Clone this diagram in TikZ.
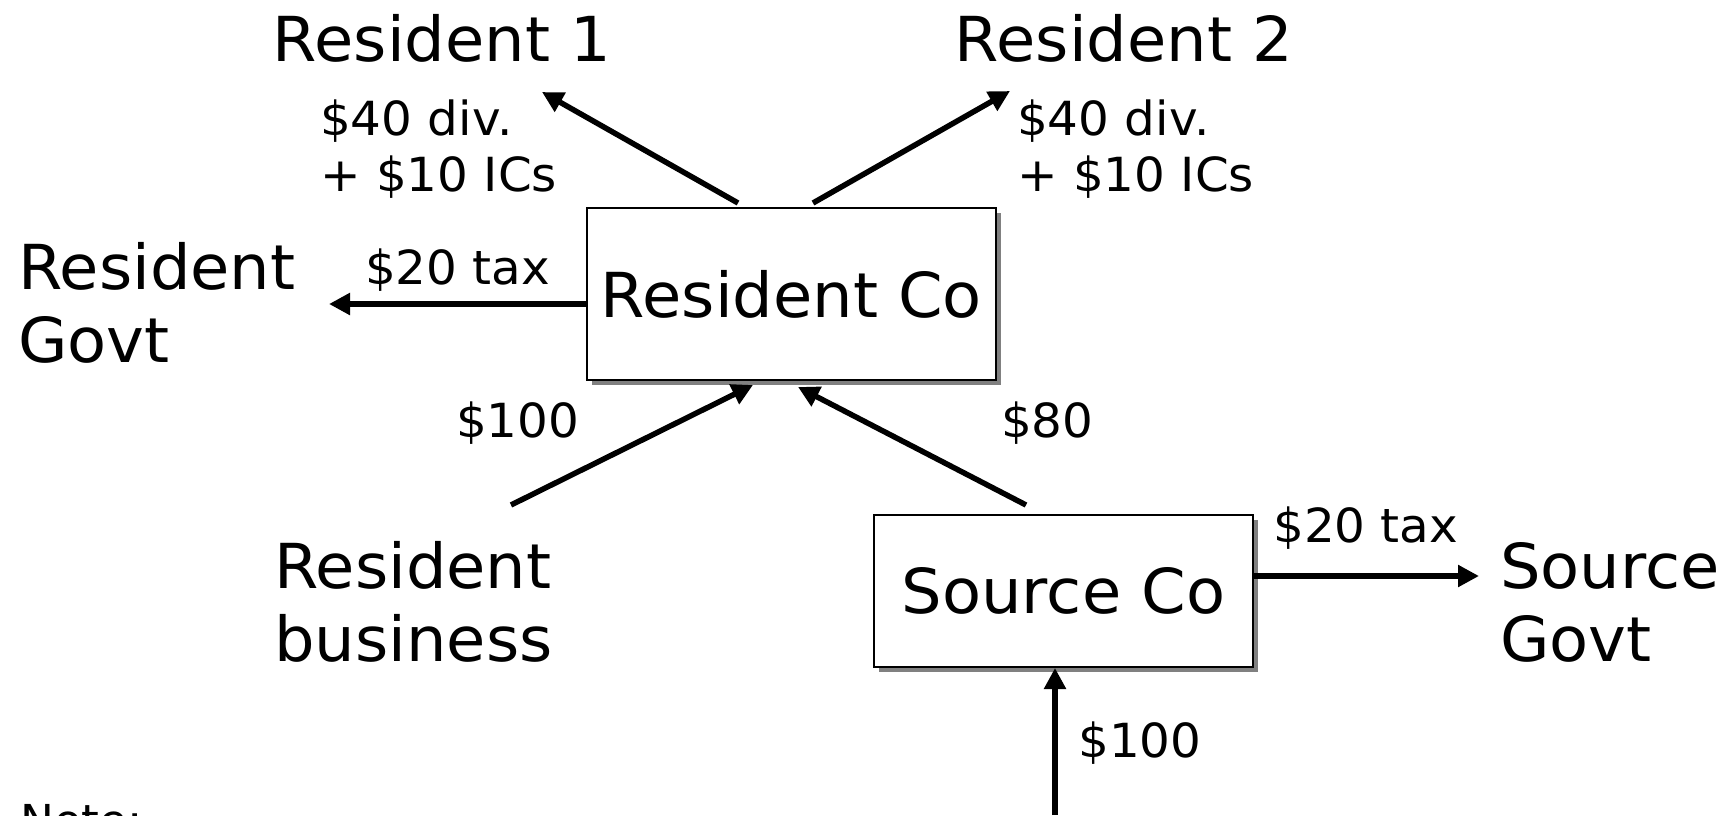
\documentclass[tikz,border=0pt]{standalone}
\usepackage{fontspec}
\setmainfont[FakeStretch=1.03]{DejaVu Sans}
\usetikzlibrary{arrows.meta,shadows}

\tikzset{
  big/.style={font=\fontsize{62}{73}\selectfont, inner sep=0pt, align=left},
  lbl/.style={font=\fontsize{47}{56}\selectfont, inner sep=0pt, align=left},
  company/.style={draw=black, line width=1.6pt, fill=white, inner sep=0pt,
    font=\fontsize{62}{73}\selectfont,
    drop shadow={shadow xshift=5pt, shadow yshift=-5pt, fill=black!50, opacity=1}},
  flow/.style={line width=5.5pt, -{Triangle[length=21pt,width=21pt]}}
}

\begin{document}
\begin{tikzpicture}[x=1pt,y=-1pt]
\useasboundingbox (0,0) rectangle (1733,815);

% companies
\node[company, minimum width=409pt, minimum height=172pt] (rc) at (791.5,294) {Resident Co};
\node[company, minimum width=379pt, minimum height=152pt] (sc) at (1063.5,591) {Source Co};

% parties (multi-line nodes sit on the baseline of their last line)
\node[big, anchor=base] (r1) at (442,61) {Resident 1};
\node[big, anchor=base] (r2) at (1124,61) {Resident 2};
\node[big, anchor=base west] (rg) at (18,362) {Resident\\Govt};
\node[big, anchor=base west] (rb) at (274,661) {Resident\\business};
\node[big, anchor=base west] (sg) at (1500,661) {Source\\Govt};

% amounts
\node[lbl, anchor=base west] (l1) at (320,191) {\$40 div.\\+ \$10 ICs};
\node[lbl, anchor=base west] (l2) at (1017,191) {\$40 div.\\+ \$10 ICs};
\node[lbl, anchor=base west] (t1) at (365,284) {\$20 tax};
\node[lbl, anchor=base west] (m1) at (456,437) {\$100};
\node[lbl, anchor=base west] (m2) at (1001,437) {\$80};
\node[lbl, anchor=base west] (t2) at (1273,542) {\$20 tax};
\node[lbl, anchor=base west] (m3) at (1078,757) {\$100};

\node[lbl, anchor=base west, font=\fontsize{44}{52}\selectfont] (note) at (20,836) {Note:};

% arrow end points
\coordinate (a1s) at (738,203);  \coordinate (a1e) at (542,92);
\coordinate (a2s) at (813,203);  \coordinate (a2e) at (1010,91);
\coordinate (a3s) at (587,304);  \coordinate (a3e) at (329,304);
\coordinate (a4s) at (511,505);  \coordinate (a4e) at (753,385);
\coordinate (a5s) at (1026,505); \coordinate (a5e) at (798,387);
\coordinate (a6s) at (1253,576); \coordinate (a6e) at (1479,576);
\coordinate (a7s) at (1055,815); \coordinate (a7e) at (1055,668);

\draw[flow] (a1s) -- (a1e);
\draw[flow] (a2s) -- (a2e);
\draw[flow] (a3s) -- (a3e);
\draw[flow] (a4s) -- (a4e);
\draw[flow] (a5s) -- (a5e);
\draw[flow] (a6s) -- (a6e);
\draw[flow] (a7s) -- (a7e);
\end{tikzpicture}
\end{document}
